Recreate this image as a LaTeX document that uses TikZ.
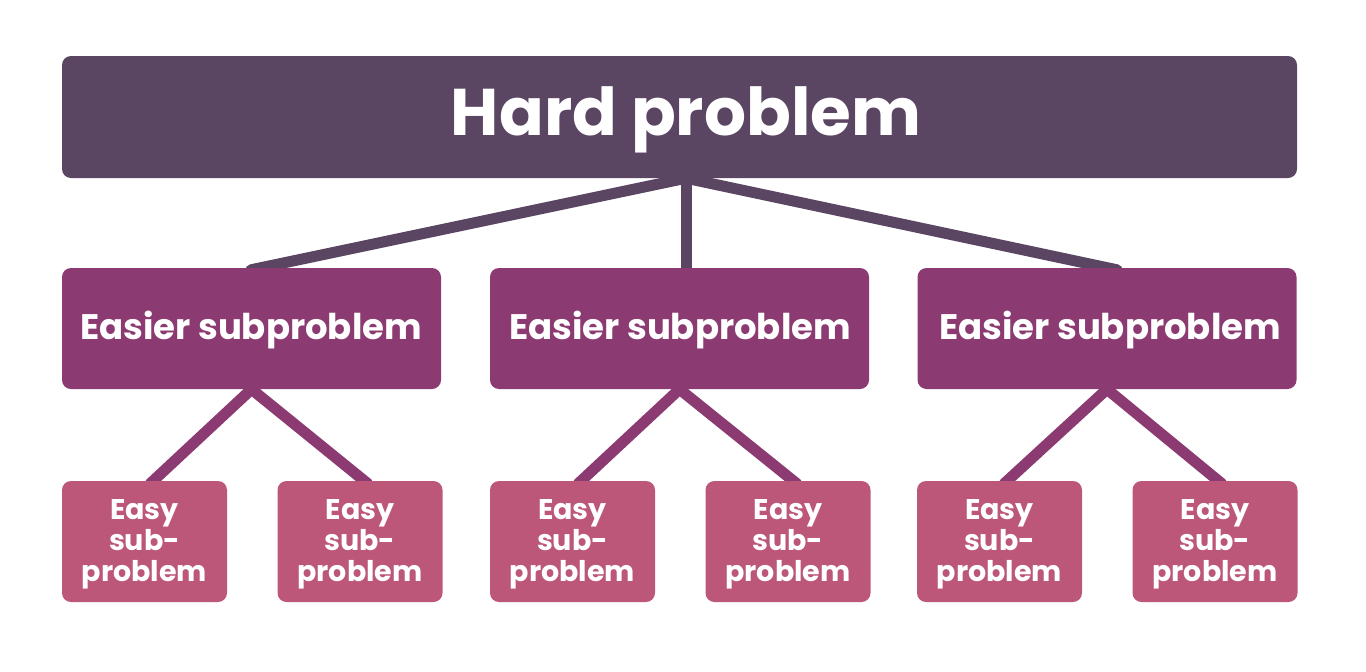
\documentclass[tikz,border=0pt]{standalone}
\usepackage{fontspec}
\setmainfont{Poppins}
\usetikzlibrary{backgrounds}
\definecolor{topc}{HTML}{5A4562}
\definecolor{midc}{HTML}{8B3A72}
\definecolor{botc}{HTML}{BD5779}
\begin{document}
\begin{tikzpicture}[x=1pt,y=-1pt,
  box/.style={rounded corners=9pt, inner sep=0pt, text=white, align=center},
  topbox/.style={box, fill=topc, minimum width=1235pt, minimum height=122pt},
  midbox/.style={box, fill=midc, minimum width=379pt, minimum height=121pt},
  botbox/.style={box, fill=botc, minimum width=165pt, minimum height=121pt},
  toptext/.style={text=white, inner sep=0pt, font=\fontsize{66}{70}\selectfont\bfseries},
  midtext/.style={text=white, inner sep=0pt, font=\fontsize{35.5}{40}\selectfont\bfseries},
  bottext/.style={text=white, inner sep=0pt, align=center, font=\fontsize{28.5}{31}\selectfont\bfseries},
  topline/.style={draw=topc, line width=11pt, line cap=round},
  midline/.style={draw=midc, line width=11pt, line cap=round}]
\useasboundingbox (0,0) rectangle (1366,672);
% boxes
\node[topbox] (hard) at (679.5,117) {};
\node[toptext] (hardtxt) at (686,120) {Hard problem};
\node[midbox] (e1) at (251.5,328.5) {};
\node[midbox] (e2) at (679.5,328.5) {};
\node[midbox] (e3) at (1107,328.5) {};
\node[midtext] (e1txt) at (251,330) {Easier subproblem};
\node[midtext] (e2txt) at (680,330) {Easier subproblem};
\node[midtext] (e3txt) at (1110,330) {Easier subproblem};
\node[botbox] (b1) at (144.5,541.5) {};
\node[botbox] (b2) at (360,541.5) {};
\node[botbox] (b3) at (572.5,541.5) {};
\node[botbox] (b4) at (788,541.5) {};
\node[botbox] (b5) at (999.5,541.5) {};
\node[botbox] (b6) at (1215,541.5) {};
\foreach \n in {b1,b2,b3,b4,b5,b6}
  \node[bottext] (\n txt) at ([yshift=-3pt]\n.center) {Easy\\sub-\\problem};
% connectors behind the boxes
\begin{scope}[on background layer]
\draw[topline] ([xshift=6.5pt]hard.south) -- ([xshift=-0.5pt,yshift=-2pt]e1.north);
\draw[topline] ([xshift=6.5pt]hard.south) -- ([xshift=6.5pt,yshift=-2pt]e2.north);
\draw[topline] ([xshift=6.5pt]hard.south) -- ([xshift=10pt,yshift=-2pt]e3.north);
\draw[midline] (e1.south) -- ([xshift=5.5pt,yshift=-3pt]b1.north);
\draw[midline] (e1.south) -- ([xshift=8pt,yshift=-3pt]b2.north);
\draw[midline] (e2.south) -- ([xshift=5.5pt,yshift=-3pt]b3.north);
\draw[midline] (e2.south) -- ([xshift=9pt,yshift=-3pt]b4.north);
\draw[midline] (e3.south) -- ([xshift=4.5pt,yshift=-3pt]b5.north);
\draw[midline] (e3.south) -- ([xshift=7pt,yshift=-3pt]b6.north);
\end{scope}
\end{tikzpicture}
\end{document}
